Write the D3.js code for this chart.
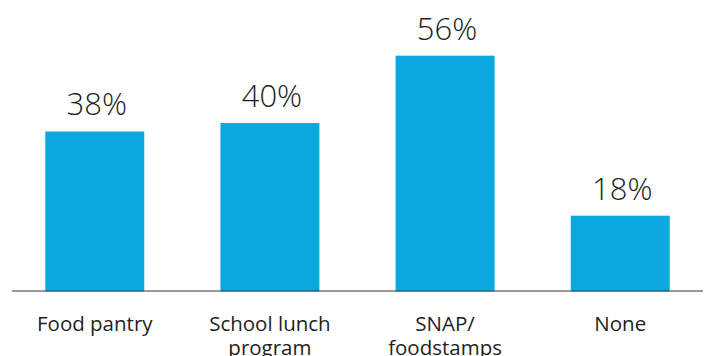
<!DOCTYPE html>
<html>
<head>
<meta charset="utf-8">
<script src="https://cdn.jsdelivr.net/npm/d3@7/dist/d3.min.js"></script>
<style>
  html, body { margin: 0; padding: 0; background: #fff; }
  svg { display: block; }
  text { font-family: "Open Sans", Lato, sans-serif; fill: #231f20; }
</style>
</head>
<body>
<script>
// Share of respondents using each food assistance source
const categories = ["Food pantry", "School lunch program", "SNAP/ foodstamps", "None"];
const labelLines = [["Food pantry"], ["School lunch", "program"], ["SNAP/", "foodstamps"], ["None"]];
const values = [38, 40, 56, 18];

const width = 707, height = 356;
const baseY = 291.5;

const svg = d3.select("body").append("svg")
  .attr("width", width)
  .attr("height", height);

const x = d3.scaleBand()
  .domain(categories)
  .range([12, 703])
  .paddingInner(0.435)
  .paddingOuter(0.19);

const y = d3.scaleLinear()
  .domain([0, 60])
  .range([baseY, baseY - 60 * 4.211]);

// bars
svg.selectAll("rect.bar")
  .data(values)
  .join("rect")
  .attr("class", "bar")
  .attr("x", (d, i) => x(categories[i]))
  .attr("width", x.bandwidth())
  .attr("y", d => y(d))
  .attr("height", d => y(0) - y(d))
  .attr("fill", "#0aa8de");

// value labels
svg.selectAll("text.value")
  .data(values)
  .join("text")
  .attr("class", "value")
  .attr("x", (d, i) => x(categories[i]) + x.bandwidth() / 2 + 2)
  .attr("y", d => y(d) - 16)
  .attr("text-anchor", "middle")
  .style("font-size", "31px")
  .style("font-weight", 300)
  .text(d => d + "%");

// baseline
svg.append("line")
  .attr("x1", 12)
  .attr("x2", 703)
  .attr("y1", 291)
  .attr("y2", 291)
  .attr("stroke", "rgba(70,70,70,0.55)")
  .attr("stroke-width", 2);

// category labels
const cat = svg.selectAll("text.cat")
  .data(labelLines)
  .join("text")
  .attr("class", "cat")
  .attr("text-anchor", "middle")
  .style("font-size", "20.5px")
  .style("font-weight", 400);

cat.selectAll("tspan")
  .data((d, i) => d.map((line, j) => ({ line, j, i })))
  .join("tspan")
  .attr("x", d => x(categories[d.i]) + x.bandwidth() / 2)
  .attr("y", d => 330.5 + d.j * 24)
  .text(d => d.line);
</script>
</body>
</html>
